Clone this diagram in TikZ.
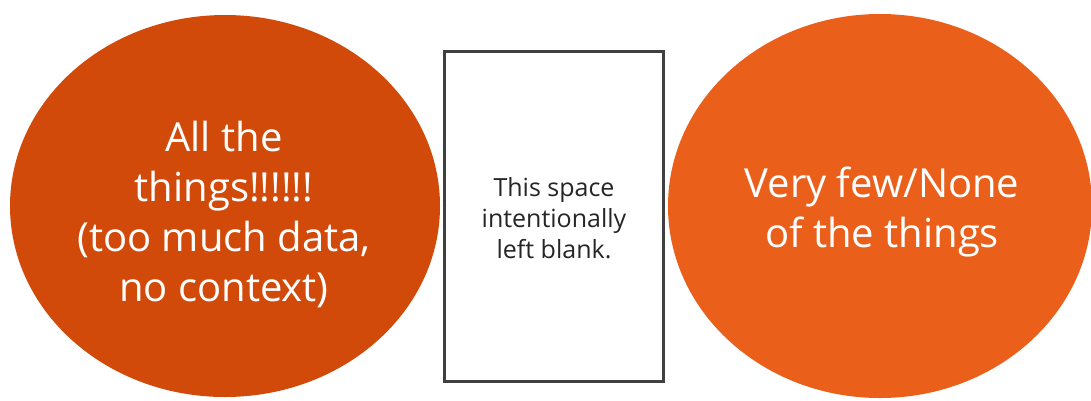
\documentclass[tikz,border=0pt]{standalone}
\usepackage{fontspec}
\setmainfont{Open Sans}
\usetikzlibrary{shapes.geometric}
\definecolor{leftfill}{HTML}{D14A0A}
\definecolor{rightfill}{HTML}{EA5F1A}
\definecolor{boxline}{HTML}{404040}
\begin{document}
\begin{tikzpicture}[x=1pt,y=-1pt,
  blob/.style={ellipse, inner sep=0pt},
  blobtext/.style={inner sep=0pt, text=white, align=center,
    font=\fontsize{40}{50}\selectfont},
  blankbox/.style={draw=boxline, line width=3pt, fill=white, inner sep=0pt},
  boxtext/.style={inner sep=0pt, align=center, text=black!85,
    font=\fontsize{25}{31}\selectfont}]
\useasboundingbox[fill=white] (0,0) rectangle (1091,400);
\node[blob, fill=leftfill, minimum width=430pt, minimum height=382pt] (left) at (225,206) {};
\node[blobtext] (lefttext) at (224,214)
  {All the\\things!!!!!!\\(too much data,\\no context)};
\node[blob, fill=rightfill, minimum width=424pt, minimum height=384pt] (right) at (880,206) {};
\node[blobtext] (righttext) at (882,212) {Very few/None\\of the things};
\node[blankbox, minimum width=219pt, minimum height=330pt] (box) at (553.5,216) {};
\node[boxtext] (boxtext) at (554,218) {This space\\intentionally\\left blank.};
\end{tikzpicture}
\end{document}
